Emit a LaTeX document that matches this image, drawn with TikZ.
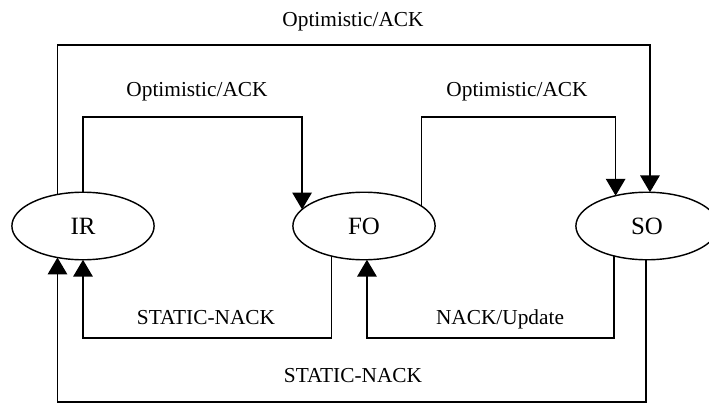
\documentclass[tikz,border=0pt]{standalone}
\usepackage{fontspec}
\setmainfont{Liberation Serif}
\usetikzlibrary{shapes.geometric,arrows.meta}

\begin{document}
\begin{tikzpicture}[x=0.5625pt,y=-0.5625pt,
  state/.style={draw,ellipse,line width=0.8pt,minimum width=80pt,minimum height=38pt,inner sep=0pt,outer sep=0pt,font=\fontsize{14}{16}\selectfont},
  flow/.style={line width=0.8pt,-{Triangle[width=11pt,length=9.5pt]}},
  lbl/.style={anchor=base,inner sep=0pt,font=\fontsize{12}{14}\selectfont}]
\useasboundingbox (0,0) rectangle (709,403);

% states
\node[state] (ir) at (83,226) {IR};
\node[state] (fo) at (364,226) {FO};
\node[state] (so) at (647,226) {SO};

% levels of the connectors
\coordinate (top1) at (0,45);
\coordinate (top2) at (0,117);
\coordinate (bot1) at (0,338);
\coordinate (bot2) at (0,402);

\draw[flow] (ir.129) -- (ir.129 |- top1) -| (so.85);
\draw[flow] (ir.90) -- (ir.90 |- top2) -| (fo.165);
\draw[flow] (fo.19) -- (fo.19 |- top2) -| (so.136);
\draw[flow] (fo.223) -- (fo.223 |- bot1) -| (ir.270);
\draw[flow] (so.222) -- (so.222 |- bot1) -| (fo.275);
\draw[flow] (so.268) -- (so.268 |- bot2) -| (ir.231);

% labels
\node[lbl] (ack1) at (353,27) {Optimistic/ACK};
\node[lbl] (ack2) at (197,96) {Optimistic/ACK};
\node[lbl] (ack3) at (517,96) {Optimistic/ACK};
\node[lbl] (nack1) at (206,324) {STATIC-NACK};
\node[lbl] (upd) at (500,324) {NACK/Update};
\node[lbl] (nack2) at (353,382) {STATIC-NACK};
\end{tikzpicture}
\end{document}
